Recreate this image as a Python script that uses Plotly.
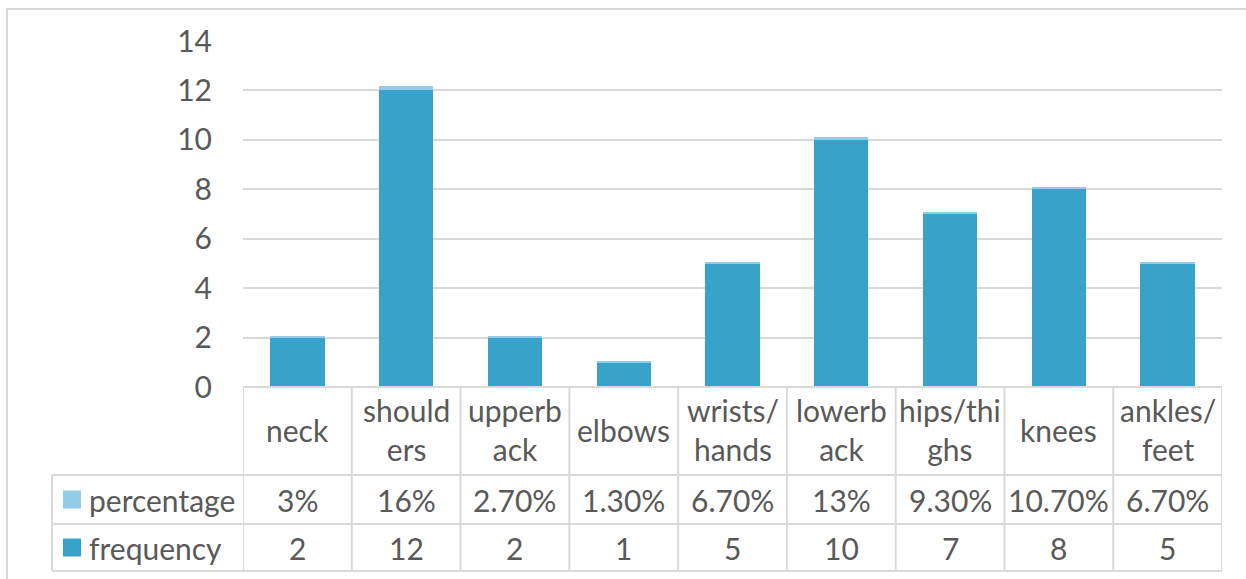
import plotly.graph_objects as go

# Body regions and their complaint counts
categories = ["neck", "shoulders", "upperback", "elbows", "wrists/hands",
              "lowerback", "hips/thighs", "knees", "ankles/feet"]
header_labels = ["neck", "should<br>ers", "upperb<br>ack", "elbows", "wrists/<br>hands",
                 "lowerb<br>ack", "hips/thi<br>ghs", "knees", "ankles/<br>feet"]
frequency = [2, 12, 2, 1, 5, 10, 7, 8, 5]
percentage_labels = ["3%", "16%", "2.70%", "1.30%", "6.70%", "13%", "9.30%", "10.70%", "6.70%"]
percentage = [float(s.rstrip("%")) / 100 for s in percentage_labels]
y_ticks = [0, 2, 4, 6, 8, 10, 12, 14]

W, H = 1246, 579
L, R, T, B = 243, 1222, 41, 387          # plot area in pixels
FONT = "Lato"
TXT = "#595959"
LINE = "#D9D9D9"
C_FREQ = "#38A3C9"
C_PCT = "#92CCE8"
FS = 30


def px(x):
    return (x - L) / (R - L)


def py(y):
    return (B - y) / (B - T)


fig = go.Figure()
fig.add_trace(go.Bar(x=list(range(len(categories))), y=frequency, name="frequency",
                     marker=dict(color=C_FREQ, line=dict(width=0)),
                     hovertext=categories))
fig.add_trace(go.Bar(x=list(range(len(categories))), y=percentage, name="percentage",
                     marker=dict(color=C_PCT, line=dict(width=0)),
                     hovertext=categories))

shapes = []
annotations = []

# outer chart border
shapes.append(dict(type="rect", xref="paper", yref="paper",
                   x0=px(7), y0=py(9), x1=px(1270), y1=py(610),
                   line=dict(color=LINE, width=2), layer="below"))

# data table rows (pixel y of horizontal rules)
row_top, row1, row2, row_bot = B, 475, 524, 571
legend_left = 52

# horizontal rules
shapes.append(dict(type="line", xref="paper", yref="paper",
                   x0=0, x1=1, y0=py(row_top), y1=py(row_top),
                   line=dict(color=LINE, width=2)))
for yy in (row1, row2, row_bot):
    shapes.append(dict(type="line", xref="paper", yref="paper",
                       x0=px(legend_left), x1=1, y0=py(yy), y1=py(yy),
                       line=dict(color=LINE, width=2)))
# vertical rules at category boundaries
for i in range(len(categories) + 1):
    shapes.append(dict(type="line", xref="x", yref="paper",
                       x0=i - 0.5, x1=i - 0.5, y0=py(row_top), y1=py(row_bot),
                       line=dict(color=LINE, width=2)))
# legend column left edge
shapes.append(dict(type="line", xref="paper", yref="paper",
                   x0=px(legend_left), x1=px(legend_left), y0=py(row1), y1=py(row_bot),
                   line=dict(color=LINE, width=2)))

# legend keys
for (yc, col) in (((row1 + row2) / 2, C_PCT), ((row2 + row_bot) / 2, C_FREQ)):
    shapes.append(dict(type="rect", xref="paper", yref="paper",
                       x0=px(63), x1=px(81), y0=py(yc - 9), y1=py(yc + 9),
                       fillcolor=col, line=dict(width=0)))

font = dict(family=FONT, size=FS, color=TXT)
annotations.append(dict(text="percentage", xref="paper", yref="paper",
                        x=px(87), y=py((row1 + row2) / 2), xanchor="left", yanchor="middle",
                        showarrow=False, font=font))
annotations.append(dict(text="frequency", xref="paper", yref="paper",
                        x=px(87), y=py((row2 + row_bot) / 2), xanchor="left", yanchor="middle",
                        showarrow=False, font=font))

for i, lab in enumerate(header_labels):
    annotations.append(dict(text=lab, xref="x", yref="paper", x=i,
                            y=py((row_top + row1) / 2 - 1), xanchor="center", yanchor="middle",
                            showarrow=False, font=font))
    annotations.append(dict(text=percentage_labels[i], xref="x", yref="paper", x=i,
                            y=py((row1 + row2) / 2), xanchor="center", yanchor="middle",
                            showarrow=False, font=font))
    annotations.append(dict(text=str(frequency[i]), xref="x", yref="paper", x=i,
                            y=py((row2 + row_bot) / 2), xanchor="center", yanchor="middle",
                            showarrow=False, font=font))

fig.update_layout(
    width=W, height=H,
    margin=dict(l=L, r=W - R, t=T, b=H - B, pad=0),
    paper_bgcolor="white", plot_bgcolor="white",
    barmode="stack", bargap=0.5,
    showlegend=False,
    shapes=shapes, annotations=annotations,
    xaxis=dict(range=[-0.5, len(categories) - 0.5], showticklabels=False,
               showgrid=False, zeroline=False, showline=False, fixedrange=True),
    yaxis=dict(range=[0, 14], tickvals=y_ticks, showgrid=True, gridcolor=LINE, gridwidth=2,
               zeroline=False, showline=False, ticks="", ticklabelstandoff=30,
               tickfont=dict(family=FONT, size=FS, color=TXT), fixedrange=True),
)

fig.write_html("out.html")
